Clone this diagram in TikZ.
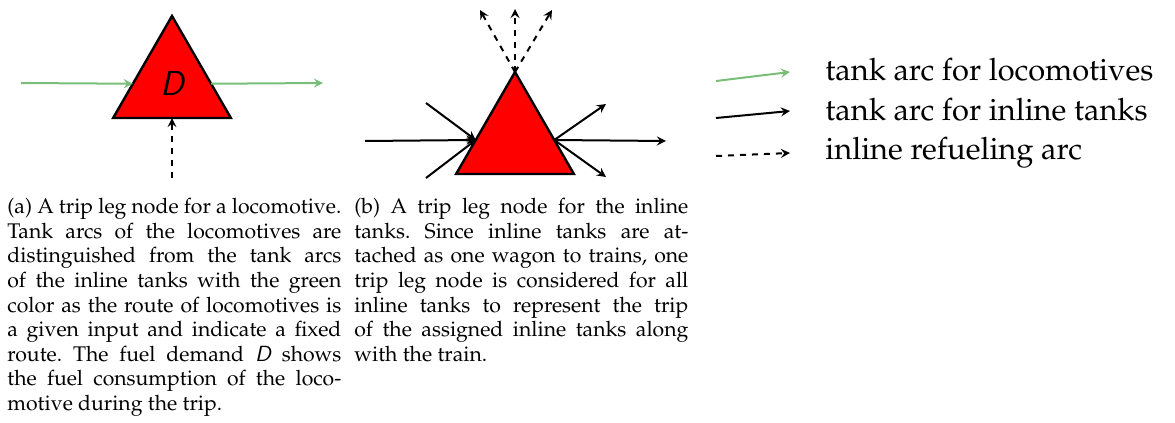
\documentclass[tikz,border=0pt]{standalone}
\usepackage[T1]{fontenc}
\usepackage{mathpazo}
\usepackage{tikz}
\usetikzlibrary{shapes,arrows,positioning}
\definecolor{LocoGreen}{RGB}{120,190,120}
\definecolor{NodeRed}{RGB}{255,0,0}
\newcommand{\dem}{{\fontencoding{OT1}\fontfamily{cmss}\fontshape{sl}\selectfont D}}

\begin{document}
\begin{tikzpicture}[x=0.5pt, y=-0.5pt,
    tripleg/.style={regular polygon, regular polygon sides=3, draw, line width=1.2pt,
      fill=NodeRed, minimum size=68pt, inner sep=0pt, outer sep=0pt},
    locoarc/.style={-stealth, LocoGreen, line width=1pt},
    tankarc/.style={-stealth, black, line width=1pt},
    refuelarc/.style={-stealth, black, dashed, line width=1pt},
    subcap/.style={text width=167pt, align=justify, inner sep=0pt, anchor=north west,
      font=\fontsize{10.6}{12.3}\selectfont\frenchspacing},
    legendtext/.style={anchor=base west, inner sep=0pt, font=\fontsize{15.4}{20}\selectfont}]
    \useasboundingbox (0,0) rectangle (1175,423);

    % (a) trip leg node of a locomotive
    \node[tripleg, font=\fontsize{16}{16}\selectfont] (loco) at (172,84) {\dem};
    \coordinate (loco-in) at (21,83);
    \coordinate (loco-out) at (323,83);
    \coordinate (loco-fuel) at (172,178);
    \draw[locoarc] (loco-in) -- (loco);
    \draw[locoarc] (loco) -- (loco-out);
    \draw[refuelarc] (loco-fuel) -- (loco);

    % (b) trip leg node of the inline tanks
    \node[tripleg] (inline) at (515,140) {};
    \coordinate (in-up) at (426,103);
    \coordinate (in-mid) at (365,141);
    \coordinate (in-low) at (426,178);
    \coordinate (out-up) at (606,104);
    \coordinate (out-mid) at (666,141);
    \coordinate (out-low) at (606,177);
    \foreach \c in {in-up,in-mid,in-low} {
      \draw[tankarc] (\c) -- (inline.180);
    }
    \foreach \c in {out-up,out-mid,out-low} {
      \draw[tankarc] (inline.0) -- (\c);
    }
    \coordinate (fuel-l) at (480,10);
    \coordinate (fuel-m) at (515,9);
    \coordinate (fuel-r) at (552,10);
    \foreach \c in {fuel-l,fuel-m,fuel-r} {
      \draw[refuelarc] (inline.corner 1) -- (\c);
    }

    % legend
    \coordinate (lg-loco-s) at (716,81);
    \coordinate (lg-loco-e) at (790,72);
    \coordinate (lg-tank-s) at (716,118);
    \coordinate (lg-tank-e) at (790,111);
    \coordinate (lg-fuel-s) at (716,156);
    \coordinate (lg-fuel-e) at (790,153);
    \draw[locoarc] (lg-loco-s) -- (lg-loco-e);
    \draw[tankarc] (lg-tank-s) -- (lg-tank-e);
    \draw[refuelarc] (lg-fuel-s) -- (lg-fuel-e);
    \node[legendtext] (lg-loco) at (825,81) {tank arc for locomotives};
    \node[legendtext] (lg-tank) at (825,120) {tank arc for inline tanks};
    \node[legendtext] (lg-fuel) at (825,159) {inline refueling arc};

    % captions
    \node[subcap] (cap-a) at (7,198) {(a) A trip leg node for a locomotive.
      Tank arcs of the locomotives are\linebreak distinguished from the tank arcs\linebreak
      of the inline tanks with the green\linebreak color as the route of locomotives is\linebreak
      a given input and indicate a fixed\linebreak route. The fuel demand \dem{} shows\linebreak
      the fuel consumption of the loco-\linebreak motive during the trip.};
    \node[subcap] (cap-b) at (354,198) {(b) A trip leg node for the inline\linebreak
      tanks. Since inline tanks are at-\linebreak tached as one wagon to trains, one\linebreak
      trip leg node is considered for all\linebreak inline tanks to represent the trip\linebreak
      of the assigned inline tanks along\linebreak with the train.};
\end{tikzpicture}
\end{document}
